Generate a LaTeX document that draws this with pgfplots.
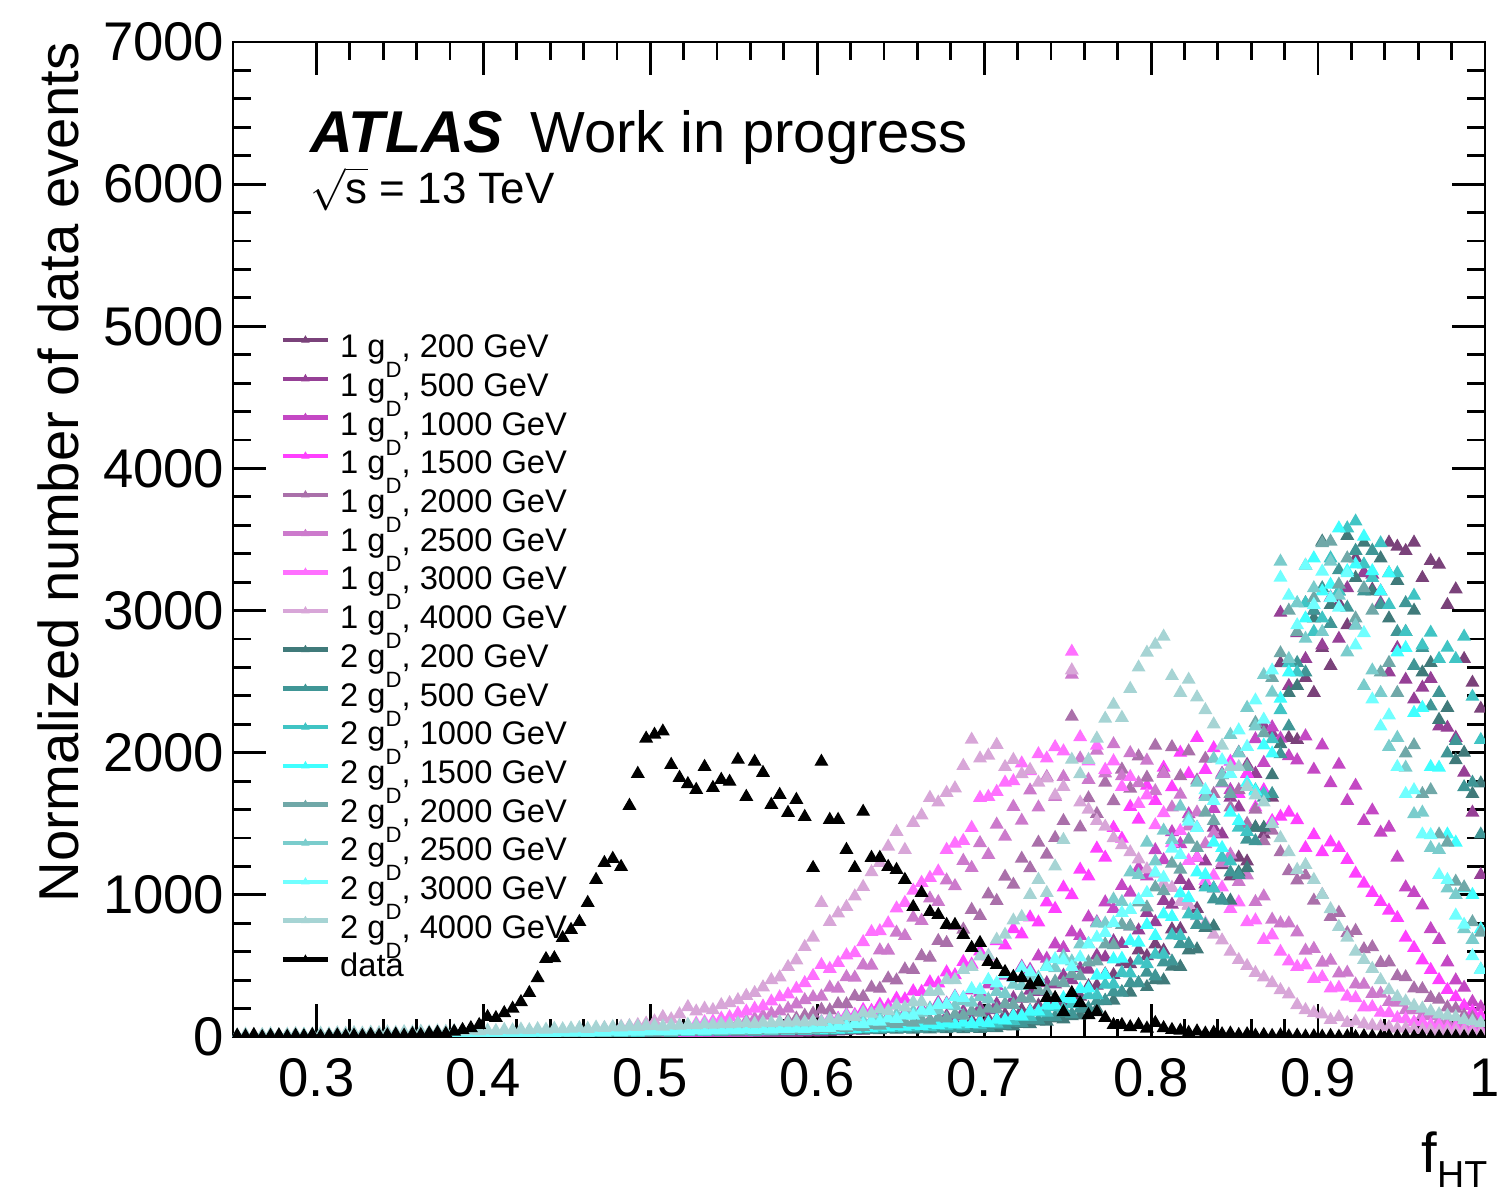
\documentclass[border=0pt]{standalone}
\usepackage{fontspec}
\setmainfont{Liberation Sans}
\setsansfont{Liberation Sans}
\usepackage{pgfplots}
\usepackage{pgfplotstable}
\pgfplotsset{compat=1.18}

% ROOT-like palette: 1 g_D in purple/magenta shades, 2 g_D in teal/cyan shades
\definecolor{aA}{RGB}{122,66,122}
\definecolor{aB}{RGB}{150,64,150}
\definecolor{aC}{RGB}{196,72,196}
\definecolor{aD}{RGB}{255,64,255}
\definecolor{aE}{RGB}{170,112,170}
\definecolor{aF}{RGB}{204,122,204}
\definecolor{aG}{RGB}{255,112,255}
\definecolor{aH}{RGB}{216,166,216}
\definecolor{bA}{RGB}{64,122,122}
\definecolor{bB}{RGB}{64,150,150}
\definecolor{bC}{RGB}{64,196,196}
\definecolor{bD}{RGB}{64,255,255}
\definecolor{bE}{RGB}{112,168,168}
\definecolor{bF}{RGB}{122,204,204}
\definecolor{bG}{RGB}{112,255,255}
\definecolor{bH}{RGB}{166,212,212}

% normalized f_HT distributions, bin width 0.005
\pgfplotstableread{
x data a200 a500 a1000 a1500 a2000 a2500 a3000 a4000 b200 b500 b1000 b1500 b2000 b2500 b3000 b4000
0.2525 10 0 0 0 1 0 2 0 3 1 2 3 3 4 5 6 12
0.2575 5 0 0 1 0 2 0 3 0 3 4 5 6 7 8 10 18
0.2625 15 0 1 0 2 1 3 1 6 0 1 2 2 3 4 5 10
0.2675 0 1 0 2 0 0 1 5 4 4 5 6 5 6 7 9 15
0.2725 8 0 0 0 1 3 4 2 8 2 3 4 8 9 10 12 20
0.2775 12 0 2 1 3 1 0 4 2 5 6 7 4 5 6 7 14
0.2825 3 0 0 0 0 2 2 0 5 1 2 3 7 8 9 11 17
0.2875 10 0 1 0 2 0 5 6 9 3 4 5 3 4 5 8 22
0.2925 6 1 0 2 1 4 1 3 4 6 7 8 9 10 11 13 16
0.2975 14 0 0 1 0 1 3 2 7 2 3 4 6 7 8 9 19
0.3025 4 0 1 1 2 2 3 5 10 4 5 6 8 9 10 12 24
0.3075 9 1 0 0 1 4 5 3 6 7 8 9 11 12 13 15 20
0.3125 12 0 0 2 3 1 2 7 12 3 4 5 7 8 9 10 27
0.3175 5 0 2 1 2 3 6 4 8 6 7 8 10 11 12 14 23
0.3225 10 0 1 3 4 5 4 6 14 9 10 11 13 14 15 17 29
0.3275 7 1 0 1 1 2 7 8 9 5 6 7 9 10 11 13 25
0.3325 15 0 1 2 3 4 3 5 11 8 9 10 12 13 14 16 31
0.3375 9 0 3 0 5 6 8 9 16 4 5 6 8 9 10 12 28
0.3425 12 0 0 3 2 3 5 7 10 10 11 12 14 15 16 18 33
0.3475 18 2 1 2 4 5 6 6 13 7 8 9 11 12 13 15 30
0.3525 10 1 2 3 4 5 7 8 15 9 10 11 13 14 15 17 35
0.3575 20 0 1 2 3 4 5 10 12 12 13 14 16 17 18 20 32
0.3625 14 2 3 4 5 7 9 7 18 8 9 10 12 13 14 16 38
0.3675 25 1 2 3 6 6 6 12 14 13 14 15 17 18 19 21 34
0.3725 30 0 1 5 4 8 10 9 20 11 12 13 15 16 17 19 40
0.3775 22 2 4 4 7 5 8 13 17 15 16 17 19 20 21 23 37
0.3825 38 1 2 3 5 9 11 11 22 10 11 12 14 15 16 18 42
0.3875 50 3 3 6 8 7 9 14 19 14 15 16 18 19 20 22 39
0.3925 63 1 5 5 6 10 12 12 25 17 18 19 21 22 23 25 45
0.3975 85 2 3 4 7 8 10 16 21 13 14 15 17 18 19 21 41
0.4025 141 2 4 6 8 9 11 15 26 16 17 18 20 21 22 24 46
0.4075 134 3 3 5 7 8 13 18 30 14 15 16 18 19 20 22 43
0.4125 169 2 5 7 9 11 10 14 24 19 20 21 23 24 25 27 50
0.4175 200 4 4 6 10 10 14 20 33 17 18 19 21 22 23 25 47
0.4225 246 3 6 8 8 12 12 17 29 21 22 23 25 26 27 29 53
0.4275 310 4 5 7 11 10 15 22 36 18 19 20 22 23 24 26 49
0.4325 415 3 7 9 10 13 14 19 38 23 24 25 27 28 29 31 56
0.4375 549 5 6 8 12 11 16 24 34 20 21 22 24 25 26 28 52
0.4425 555 4 8 10 11 14 15 21 42 22 23 24 26 27 28 30 58
0.4475 697 5 7 9 13 12 17 25 40 25 26 27 29 30 31 33 55
0.4525 754 5 8 10 12 10 16 24 45 24 25 26 28 29 30 32 60
0.4575 810 6 9 11 14 13 19 28 52 27 28 29 31 32 33 35 63
0.4625 944 5 8 12 13 15 18 30 48 23 24 25 27 28 29 31 58
0.4675 1106 7 10 11 15 14 22 27 58 29 30 31 33 34 35 37 67
0.4725 1225 6 11 13 16 17 21 35 63 26 27 28 30 31 32 34 64
0.4775 1254 8 10 14 15 18 26 38 60 30 31 32 34 35 37 39 70
0.4825 1197 7 12 13 18 20 28 42 72 28 29 30 32 33 34 36 68
0.4875 1627 8 13 15 17 22 32 40 78 31 32 33 35 36 38 40 74
0.4925 1852 9 12 16 19 24 35 50 85 29 30 31 33 34 36 38 72
0.4975 2100 8 14 17 20 25 38 55 95 33 34 35 37 38 40 42 76
0.5025 2127 10 15 18 22 26 40 60 110 32 33 34 36 37 40 41 78
0.5075 2150 9 14 19 24 30 45 58 141 35 36 37 39 40 43 44 74
0.5125 1915 11 16 20 26 32 48 72 125 31 32 33 35 36 39 40 82
0.5175 1824 12 17 21 28 36 55 80 160 37 38 39 41 42 45 46 80
0.5225 1780 11 18 22 30 40 58 76 211 34 35 36 38 39 42 43 86
0.5275 1739 13 19 23 32 44 65 95 180 39 40 41 43 44 47 48 83
0.5325 1901 14 20 24 35 48 70 105 200 36 37 38 40 41 44 45 90
0.5375 1753 13 21 25 37 52 78 110 190 40 41 42 44 45 49 50 87
0.5425 1810 15 22 26 39 56 85 130 225 37 38 39 41 42 46 47 93
0.5475 1796 16 23 25 42 60 95 140 239 41 42 43 45 46 51 52 91
0.5525 1951 17 24 27 45 62 100 165 260 39 40 41 43 44 50 49 95
0.5575 1690 18 25 30 50 70 115 180 290 42 43 44 46 47 53 54 99
0.5625 1937 20 26 33 56 78 130 200 310 38 39 40 42 43 55 51 93
0.5675 1859 21 28 36 62 85 150 215 350 43 44 45 47 48 58 56 102
0.5725 1634 23 29 40 68 92 165 250 401 40 41 42 44 45 60 53 98
0.5775 1704 25 30 44 75 100 180 280 420 45 46 47 49 50 63 58 105
0.5825 1577 27 31 48 82 115 200 300 493 41 42 43 45 46 66 55 101
0.5875 1669 29 32 52 90 130 230 340 540 46 47 48 50 51 70 60 108
0.5925 1549 32 33 56 98 150 260 380 634 43 44 45 47 48 74 57 104
0.5975 1190 35 34 58 105 165 280 430 700 47 48 49 51 52 78 62 110
0.6025 1937 40 33 64 108 192 285 507 944 48 43 53 49 58 78 64 106
0.6075 1528 37 41 62 132 188 348 480 810 44 51 49 58 55 91 62 127
0.6125 1528 45 39 77 129 232 341 521 870 51 47 57 53 66 85 76 121
0.6175 1317 41 49 75 159 231 422 575 915 47 54 53 63 62 101 75 148
0.6225 1190 49 47 93 155 286 418 590 990 54 50 61 58 74 95 93 142
0.6275 1585 45 58 94 191 283 505 668 1056 49 58 57 69 71 114 90 171
0.6325 1261 53 57 116 184 348 503 739 1160 56 53 65 63 85 112 111 165
0.6375 1261 49 69 113 228 340 610 745 1225 51 61 60 74 81 135 108 196
0.6425 1197 58 66 142 222 412 608 800 1340 58 57 70 68 97 133 132 184
0.6475 1176 55 79 140 270 398 735 905 1444 53 65 64 79 91 158 128 222
0.6525 1106 63 76 169 265 476 712 944 1317 58 57 74 74 106 152 153 208
0.6575 915 59 95 166 322 473 840 1030 1507 53 66 68 85 102 180 151 244
0.6625 1014 70 94 201 318 570 818 1085 1560 60 60 78 79 122 171 185 247
0.6675 880 68 118 199 385 558 975 1120 1683 54 68 72 91 115 200 184 318
0.6725 859 85 118 243 378 676 950 1165 1650 61 61 82 83 137 190 227 322
0.6775 789 83 148 236 455 662 1102 1317 1718 55 70 76 96 132 226 228 401
0.6825 789 101 146 285 435 782 1062 1360 1750 62 63 87 89 158 218 280 401
0.6875 718 98 180 274 528 756 1240 1380 1908 56 72 80 102 151 253 275 472
0.6925 627 118 175 328 510 895 1190 1472 2092 63 65 91 93 180 242 338 493
0.6975 662 112 206 312 602 852 1365 1683 1960 57 74 84 106 171 280 332 568
0.7025 528 127 190 370 568 1003 1282 1690 1980 64 68 95 99 200 265 402 572
0.7075 507 128 232 360 675 958 1495 1725 2056 62 85 94 122 194 318 378 685
0.7125 458 158 228 432 645 1128 1410 1790 1900 76 83 116 118 232 303 443 720
0.7175 423 157 274 418 760 1072 1620 1800 1950 75 101 113 148 227 368 418 820
0.7225 415 190 270 495 722 1255 1522 1925 1850 93 99 142 146 274 360 484 845
0.7275 366 185 326 474 842 1188 1735 1870 1880 90 121 142 179 270 432 456 1000
0.7325 387 222 318 568 806 1368 1615 1990 1790 111 118 174 180 327 418 401 1106
0.7375 275 213 379 551 948 1283 1830 1960 1820 109 142 171 221 322 505 493 1014
0.7425 275 253 370 652 902 1401 1690 2040 1700 132 142 211 223 390 485 548 1200
0.7475 176 242 432 627 1052 1520 1830 2010 1760 125 168 199 274 380 568 540 1387
0.7525 310 274 400 736 998 2254 2550 2711 2580 147 161 232 266 442 532 493 1951
0.7575 239 285 484 712 1178 1475 1960 2110 1650 152 200 238 337 428 652 560 1850
0.7625 155 358 475 842 1130 1680 1810 1940 1600 195 204 295 342 526 655 652 1950
0.7675 176 361 573 808 1326 1570 2015 2050 1520 199 252 294 432 532 800 700 2100
0.7725 134 442 560 948 1262 1790 1855 1880 1480 253 256 368 437 652 798 732 2240
0.7775 85 437 674 902 1472 1660 2060 1940 1400 256 316 371 547 646 968 803 2338
0.7825 85 526 655 1063 1395 1882 1835 1760 1350 316 313 452 551 789 950 873 2246
0.7875 70 513 779 1016 1620 1748 1998 1830 1300 313 379 447 674 779 1158 894 2450
0.7925 85 610 750 1189 1530 1975 1786 1640 1250 379 380 537 665 947 1140 965 2600
0.7975 60 570 874 1130 1768 1825 1945 1700 1180 352 453 513 789 912 1368 1014 2704
0.8025 99 652 808 1315 1662 2050 1730 1490 1150 400 427 579 712 1052 1235 1157 2760
0.8075 63 608 958 1245 1895 1862 1852 1575 1080 399 526 580 863 1026 1452 1121 2817
0.8125 50 758 931 1442 1758 2040 1615 1365 1050 495 532 716 846 1220 1387 1326 2540
0.8175 45 760 1105 1358 2000 1835 1705 1450 950 494 653 712 1010 1178 1621 1282 2422
0.8225 30 926 1064 1568 1852 2010 1482 1240 930 610 655 863 978 1389 1539 1516 2514
0.8275 40 902 1263 1472 2105 1805 1580 1262 850 617 789 855 1158 1330 1789 1472 2390
0.8325 25 1074 1235 1705 1880 1958 1358 1098 800 768 788 1052 1140 1579 1690 1737 2300
0.8375 30 1045 1474 1605 2032 1710 1432 1135 720 779 968 1045 1368 1520 1958 1662 2200
0.8425 20 1210 1425 1853 1785 1842 1225 1052 680 968 960 1263 1330 1789 1843 1947 2050
0.8475 25 1130 1684 1738 1937 1615 1284 902 600 960 1158 1235 1579 1710 2126 1852 1900
0.8525 15 1263 1615 2000 1710 1737 1092 948 542 1158 1140 1474 1520 2000 1995 2158 1900
0.8575 20 1235 1916 1852 1853 1500 1137 808 500 1188 1389 1444 1789 1900 2316 2042 1760
0.8625 10 1474 1852 2095 1615 1600 950 821 451 1474 1378 1737 1729 2210 2185 2368 1700
0.8675 15 1425 2190 1929 1737 1378 990 684 420 1473 1684 1710 2052 2138 2547 2233 1650
0.8725 8 1684 2138 2179 1520 1452 826 716 380 1842 1710 2095 1995 2526 2423 2579 1500
0.8775 12 2630 2985 2100 1550 1300 800 600 330 2060 1990 2300 2380 2700 3345 3232 1400
0.8825 5 2105 2470 1976 1579 1168 800 532 300 2421 2185 2632 2565 3000 2660 3105 1300
0.8875 10 2090 2842 1947 1526 1102 737 494 225 2470 2632 2565 3052 2850 3052 2897 1176
0.8925 4 2526 2660 2116 1330 1137 608 505 190 3052 2565 3052 2945 3316 2802 3316 1211
0.8975 6 2422 3000 1881 1421 960 621 409 170 2945 3000 2850 3368 3088 3158 3040 1106
0.9025 3 2737 2755 2052 1300 1000 523 421 160 3486 3158 2945 3135 3474 2850 3275 1000
0.9075 8 2612 3092 1786 1370 845 537 342 120 3040 2907 3368 3182 3486 3345 3088 900
0.9125 2 3052 2802 1916 1330 874 447 347 140 3135 3284 3135 3579 3183 3105 3021 775
0.9175 5 2897 3158 1662 1246 731 453 285 99 3526 3021 3579 3278 3368 2707 3263 700
0.9225 0 3368 2897 1768 1150 747 370 274 110 3230 3421 3627 3325 2945 2895 2755 600
0.9275 6 3268 3263 1520 1080 618 368 209 90 3479 3135 3325 3521 3158 2470 2842 542
0.9325 3 3148 3254 1594 1014 632 304 211 80 3135 3421 3230 3278 3000 2579 2375 480
0.9375 0 3135 3053 1438 950 522 305 171 75 3368 3040 3474 3135 2565 2421 2185 400
0.9425 4 3479 2565 1474 890 526 247 168 70 2945 3263 3040 3263 2632 2042 2263 330
0.9475 2 3450 2737 1263 838 428 242 133 60 3210 2850 3263 2707 2421 2105 1900 282
0.9525 5 3420 2514 1053 700 421 190 126 62 2850 3053 2850 2737 1995 1895 1710 250
0.9575 0 3479 2375 1014 627 342 189 105 55 3000 2612 3105 2280 2053 1568 1737 220
0.9625 3 3230 2458 926 540 337 152 105 50 2565 2737 2755 2316 1710 1579 1425 200
0.9675 1 3350 2520 760 472 276 147 86 48 2632 2327 2845 1900 1737 1330 1421 180
0.9725 0 3324 2185 684 401 263 114 84 42 2232 2421 2660 1895 1425 1316 1140 160
0.9775 4 3040 2176 526 331 209 105 67 40 2316 1995 2739 1425 1368 1045 1105 150
0.9825 2 3150 2105 399 280 200 86 65 38 1948 2084 2660 1368 1093 1000 855 140
0.9875 0 2660 1860 347 220 152 79 52 35 2000 1758 2817 1045 1053 760 790 120
0.9925 3 2493 1579 247 180 137 57 50 30 1710 1789 2394 1000 808 684 570 110
0.9975 1 2310 1140 210 150 95 53 38 28 1785 1425 2090 760 735 475 473 100
}\fhtable

% legend label "N g_D, M GeV" with a ROOT-style lowered subscript
\newcommand{\gd}[2]{#1 g\raisebox{-2mm}{\fontsize{6.3}{6}\selectfont D}, #2 GeV}

\begin{document}
\begin{tikzpicture}
\useasboundingbox (-2.33cm,-1.61cm) rectangle (12.64cm,10.37cm);
\begin{axis}[
  at={(0,0)}, anchor=south west,
  width=12.52cm, height=9.95cm, scale only axis,
  xmin=0.25, xmax=1, ymin=0, ymax=7000,
  xtick={0.3,0.4,0.5,0.6,0.7,0.8,0.9,1},
  xticklabels={0.3,0.4,0.5,0.6,0.7,0.8,0.9,1},
  ytick={0,1000,2000,3000,4000,5000,6000,7000},
  minor x tick num=4, minor y tick num=4,
  tick align=inside,
  major tick length=0.33cm, minor tick length=0.18cm,
  every tick/.style={black, line width=0.8pt},
  axis line style={line width=0.8pt},
  /pgf/number format/assume math mode=true,
  /pgf/number format/1000 sep={},
  scaled y ticks=false,
  tick label style={font=\fontsize{15.5}{16}\selectfont},
  yticklabel style={inner sep=0pt, xshift=-0.8mm},
  xticklabel style={inner sep=0pt, yshift=-2.1mm},
  ylabel={Normalized number of data events},
  ylabel style={at={(axis description cs:-0.1238,1)}, anchor=base east, inner sep=0pt, font=\fontsize{16}{18}\selectfont},
  xlabel={f\raisebox{-1.5mm}{\fontsize{10.7}{11}\selectfont HT}},
  xlabel style={at={(axis description cs:1.0024,0)}, anchor=base east, yshift=-13.6mm, inner sep=0pt, font=\fontsize{16}{18}\selectfont},
  clip marker paths=true,
  sig/.style={only marks, mark=triangle*, mark size=1.9pt, color=#1},
  legend image code/.code={
    \draw[#1, line width=1.3pt] (0mm,1.1mm) -- (4.5mm,1.1mm);
    \draw[#1, only marks, line width=0.3pt, mark size=1.1pt] plot coordinates {(2.25mm,1.1mm)};
  },
  legend cell align=left,
  legend style={at={(axis description cs:0.0375,0.7095)}, anchor=north west,
    draw=none, fill=none, inner sep=0pt, column sep=1mm, row sep=0pt,
    font=\fontsize{9.3}{10}\selectfont,
    nodes={inner sep=0pt, text height=2.6mm, text depth=1.27mm}},
]
\addplot[sig=aA] table[x=x,y=a200] {\fhtable}; \addlegendentry{\gd{1}{200}}
\addplot[sig=aB] table[x=x,y=a500] {\fhtable}; \addlegendentry{\gd{1}{500}}
\addplot[sig=aC] table[x=x,y=a1000] {\fhtable}; \addlegendentry{\gd{1}{1000}}
\addplot[sig=aD] table[x=x,y=a1500] {\fhtable}; \addlegendentry{\gd{1}{1500}}
\addplot[sig=aE] table[x=x,y=a2000] {\fhtable}; \addlegendentry{\gd{1}{2000}}
\addplot[sig=aF] table[x=x,y=a2500] {\fhtable}; \addlegendentry{\gd{1}{2500}}
\addplot[sig=aG] table[x=x,y=a3000] {\fhtable}; \addlegendentry{\gd{1}{3000}}
\addplot[sig=aH] table[x=x,y=a4000] {\fhtable}; \addlegendentry{\gd{1}{4000}}
\addplot[sig=bA] table[x=x,y=b200] {\fhtable}; \addlegendentry{\gd{2}{200}}
\addplot[sig=bB] table[x=x,y=b500] {\fhtable}; \addlegendentry{\gd{2}{500}}
\addplot[sig=bC] table[x=x,y=b1000] {\fhtable}; \addlegendentry{\gd{2}{1000}}
\addplot[sig=bD] table[x=x,y=b1500] {\fhtable}; \addlegendentry{\gd{2}{1500}}
\addplot[sig=bE] table[x=x,y=b2000] {\fhtable}; \addlegendentry{\gd{2}{2000}}
\addplot[sig=bF] table[x=x,y=b2500] {\fhtable}; \addlegendentry{\gd{2}{2500}}
\addplot[sig=bG] table[x=x,y=b3000] {\fhtable}; \addlegendentry{\gd{2}{3000}}
\addplot[sig=bH] table[x=x,y=b4000] {\fhtable}; \addlegendentry{\gd{2}{4000}}
\addplot[sig=black] table[x=x,y=data] {\fhtable}; \addlegendentry{data}

\node[anchor=base west, inner sep=0pt] at (axis description cs:0.0615,0.8894)
  {\fontsize{16.8}{18}\selectfont\bfseries\itshape ATLAS};
\node[anchor=base west, inner sep=0pt] at (axis description cs:0.2372,0.8894)
  {\fontsize{16.5}{18}\selectfont Work in progress};
\node[anchor=base west, inner sep=0pt] at (axis description cs:0.0615,0.838)
  {\fontsize{12.5}{14}\selectfont $\sqrt{\mbox{s}}$ = 13 TeV};
\end{axis}
\end{tikzpicture}
\end{document}
